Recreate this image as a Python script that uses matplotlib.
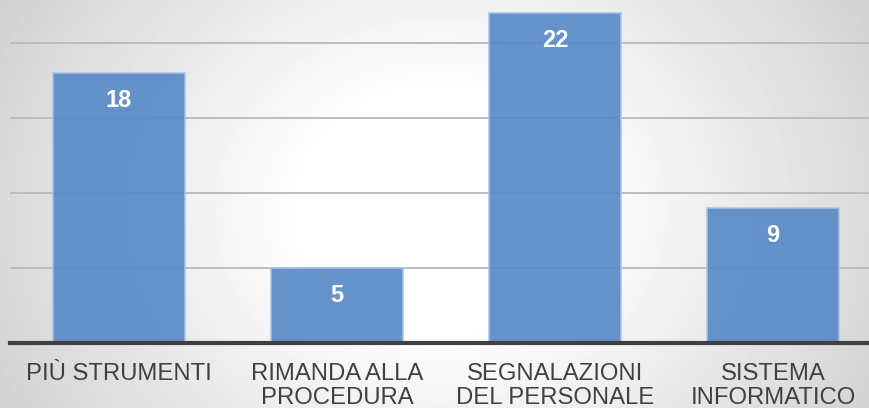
import numpy as np
import matplotlib.pyplot as plt

plt.rcParams['font.family'] = ['Liberation Sans', 'DejaVu Sans']

categories = ['PIÙ STRUMENTI', 'RIMANDA ALLA\nPROCEDURA',
              'SEGNALAZIONI\nDEL PERSONALE', 'SISTEMA\nINFORMATICO']
counts = [18, 5, 22, 9]
gridlines = [5, 10, 15, 20]

W, H = 870, 408
fig = plt.figure(figsize=(W / 100, H / 100), dpi=100)

# radial grey-to-white backdrop
bg = fig.add_axes([0, 0, 1, 1], zorder=0)
yy, xx = np.mgrid[0:H, 0:W]
r = np.hypot((xx - 440) / 1.0, (yy - 210) / 0.85)
t = np.clip((r - 140) / 420, 0, 1)
shade = 1.0 - 0.21 * t
bg.imshow(shade, cmap='gray', vmin=0, vmax=1, aspect='auto',
          extent=[0, 1, 0, 1], origin='upper')
bg.axis('off')

ax = fig.add_axes([10 / W, (H - 342.5) / H, (W - 10) / W, 342.5 / H], zorder=1)
ax.patch.set_alpha(0)

x = np.arange(len(categories))
ax.bar(x, counts, width=0.605, color='#5b8bc7', alpha=0.93,
       edgecolor='#a8c3e4', linewidth=1.2, zorder=3)

for gy in gridlines:
    ax.axhline(gy, color='#bcbcbc', lw=1.4, zorder=2)

for xi, v in zip(x, counts):
    ax.text(xi, v - 1.85, str(v), ha='center', va='center',
            color='white', fontsize=17, fontweight='bold', zorder=4)

ax.set_xlim(-0.5, (W - 10) / 218 - 0.5)
ax.set_ylim(0, 342.5 / 15)
ax.set_xticks(x)
ax.set_xticklabels(categories, fontsize=17.2, color='#404040', linespacing=1.12)
ax.tick_params(axis='x', length=0, pad=15)
ax.set_yticks([])
for side in ['top', 'right', 'left']:
    ax.spines[side].set_visible(False)
ax.spines['bottom'].set_color('#404040')
ax.spines['bottom'].set_linewidth(3)
ax.spines['bottom'].set_zorder(5)

fig.savefig('out.png', dpi=100)
